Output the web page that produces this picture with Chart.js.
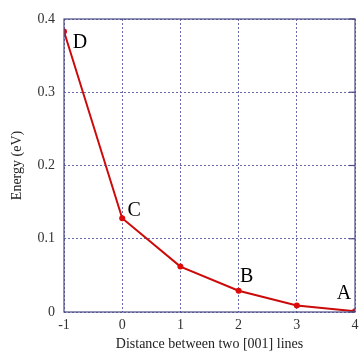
<!DOCTYPE html>
<html>
<head>
<meta charset="utf-8">
<script src="https://cdn.jsdelivr.net/npm/chart.js@4"></script>
<style>
  body { margin: 0; background: #fff; }
  #wrap { width: 359px; height: 353px; }
</style>
</head>
<body>
<div id="wrap"><canvas id="myChart"></canvas></div>
<script>
var distances = [-1, 0, 1, 2, 3, 4];
var energies = [0.383, 0.128, 0.062, 0.029, 0.009, 0.001];
var pointNames = ['D', 'C', '', 'B', '', 'A'];
var xTicks = [-1, 0, 1, 2, 3, 4];
var yTicks = [0, 0.1, 0.2, 0.3, 0.4];

// offsets of the letter labels from their points (px)
var nameOffsets = [[16, 11], [12, -7], [0, 0], [8, -14], [0, 0], [-11, -18]];

var frame = '#4b4b86';
var gridCol = '#6a6aa8';

var points = [];
for (var i = 0; i < distances.length; i++) {
  points.push({x: distances[i], y: energies[i]});
}

var extras = {
  id: 'extras',
  afterDraw: function(chart) {
    var ctx = chart.ctx;
    var a = chart.chartArea;
    var xs = chart.scales.x, ys = chart.scales.y;
    ctx.save();
    // frame round the plot
    ctx.strokeStyle = frame;
    ctx.lineWidth = 1.2;
    ctx.strokeRect(a.left, a.top, a.right - a.left, a.bottom - a.top);
    // small inward ticks on right side
    for (var j = 0; j < yTicks.length; j++) {
      var py = ys.getPixelForValue(yTicks[j]);
      ctx.beginPath();
      ctx.moveTo(a.right - 6, py);
      ctx.lineTo(a.right, py);
      ctx.stroke();
    }
    // letters
    ctx.fillStyle = '#000';
    ctx.font = '20px "Liberation Serif", "Times New Roman", serif';
    ctx.textAlign = 'center';
    ctx.textBaseline = 'middle';
    for (var k = 0; k < pointNames.length; k++) {
      if (!pointNames[k]) continue;
      var px = xs.getPixelForValue(distances[k]) + nameOffsets[k][0];
      var py2 = ys.getPixelForValue(energies[k]) + nameOffsets[k][1];
      ctx.fillText(pointNames[k], px, py2);
    }
    ctx.restore();
  }
};

var serif = '"Liberation Serif", "Times New Roman", serif';

new Chart(document.getElementById('myChart'), {
  type: 'scatter',
  data: {
    datasets: [{
      data: points,
      showLine: true,
      borderColor: '#cc0a0a',
      backgroundColor: '#dd0a0a',
      borderWidth: 2,
      pointRadius: 3,
      pointBorderWidth: 0,
      tension: 0
    }]
  },
  options: {
    responsive: true,
    maintainAspectRatio: false,
    animation: false,
    layout: { padding: { top: 19, right: 0, left: 0, bottom: 0 } },
    plugins: { legend: { display: false }, tooltip: { enabled: false } },
    scales: {
      x: {
        type: 'linear',
        min: -1, max: 4,
        afterBuildTicks: function(s) { s.ticks = xTicks.map(function(v) { return {value: v}; }); },
        afterFit: function(s) { s.height = 41; s.paddingRight = 0; s.paddingLeft = 0; },
        grid: { color: gridCol, lineWidth: 1, drawTicks: false },
        border: { display: false, dash: [2, 2] },
        ticks: { color: '#333', padding: 5, font: { family: serif, size: 14 }, maxRotation: 0 },
        title: { display: true, text: 'Distance between two [001] lines', color: '#222', padding: {top: 3, bottom: 0}, font: { family: serif, size: 14 } }
      },
      y: {
        min: 0, max: 0.4,
        afterBuildTicks: function(s) { s.ticks = yTicks.map(function(v) { return {value: v}; }); },
        afterFit: function(s) { s.width = 64; s.paddingTop = 0; s.paddingBottom = 0; },
        grid: { color: gridCol, lineWidth: 1, drawTicks: false },
        border: { display: false, dash: [2, 2] },
        ticks: { color: '#333', padding: 9, font: { family: serif, size: 14 } },
        title: { display: true, text: 'Energy (eV)', color: '#222', padding: {top: 9, bottom: 0}, font: { family: serif, size: 14 } }
      }
    }
  },
  plugins: [extras]
});
</script>
</body>
</html>
